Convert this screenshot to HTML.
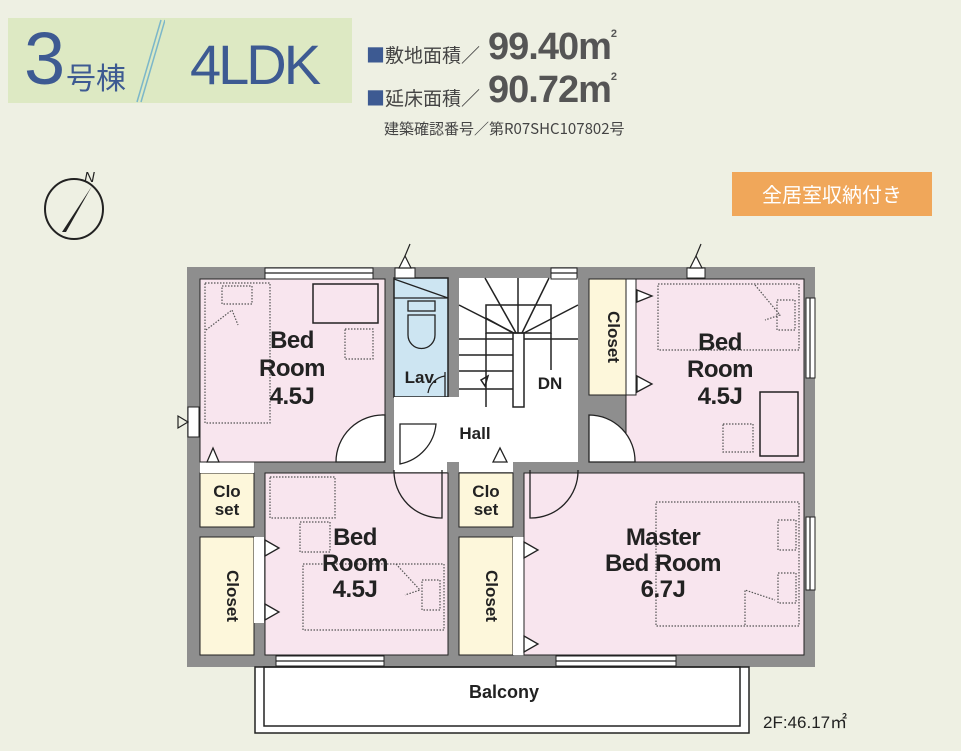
<!DOCTYPE html>
<html><head><meta charset="utf-8"><style>
html,body{margin:0;padding:0}
body{width:961px;height:751px;background:#eef0e3;position:relative;overflow:hidden;font-family:"Liberation Sans","Noto Sans CJK JP",sans-serif}
.t{position:absolute;white-space:nowrap}
</style></head><body>
<div style="position:absolute;left:8px;top:18px;width:344px;height:85px;background:#dde9c3"></div>
<div class="t" style="left:24px;top:16px;font-size:74px;color:#3d5a92;line-height:85px;letter-spacing:-2px">3</div>
<div class="t" style="left:66px;top:54px;font-size:30px;color:#3d5a92;font-family:'Noto Sans CJK JP',sans-serif">号棟</div>
<svg style="position:absolute;left:125px;top:18px" width="40" height="85"><line x1="12" y1="84" x2="36" y2="2" stroke="#7cb7c9" stroke-width="1.5"/><line x1="16" y1="84" x2="40" y2="2" stroke="#7cb7c9" stroke-width="1.5"/></svg>
<div class="t" style="left:190px;top:32px;font-size:56px;color:#3d5a92;letter-spacing:-3px">4LDK</div>
<div class="t" style="left:366px;top:41px;font-size:19px;color:#444;font-family:'Noto Sans CJK JP',sans-serif"><span style="color:#3d5a92">■</span>敷地面積／</div>
<div class="t" style="left:488px;top:26px;font-size:38px;font-weight:bold;color:#555;letter-spacing:-1px">99.40m<sup style="font-size:11px;vertical-align:22px">2</sup></div>
<div class="t" style="left:366px;top:84px;font-size:19px;color:#444;font-family:'Noto Sans CJK JP',sans-serif"><span style="color:#3d5a92">■</span>延床面積／</div>
<div class="t" style="left:488px;top:69px;font-size:38px;font-weight:bold;color:#555;letter-spacing:-1px">90.72m<sup style="font-size:11px;vertical-align:22px">2</sup></div>
<div class="t" style="left:384px;top:118px;font-size:15px;color:#444;font-family:'Noto Sans CJK JP',sans-serif">建築確認番号／第R07SHC107802号</div>
<div style="position:absolute;left:732px;top:172px;width:200px;height:44px;background:#f0a75a;color:#fff;font-size:20px;text-align:center;line-height:44px;font-family:'Noto Sans CJK JP',sans-serif">全居室収納付き</div>
<svg style="position:absolute;left:0;top:0" width="961" height="751">
<g font-family="Liberation Sans,sans-serif">
<ellipse cx="74" cy="209" rx="29" ry="30" fill="none" stroke="#222" stroke-width="2"/>
<polygon points="92,186 62,232 66,232" fill="#222"/>
<text x="84" y="182" font-size="15" font-style="italic" fill="#222">N</text>
<rect x="187" y="267" width="628" height="400" fill="#8e8e8e"/>
<rect x="200" y="279" width="185" height="183" fill="#f8e5ee"/>
<rect x="394" y="278" width="54" height="119" fill="#cde5f2" stroke="#222" stroke-width="1.5"/>
<rect x="459" y="278" width="119" height="130" fill="#fff"/>
<rect x="394" y="397" width="184" height="65" fill="#fff"/>
<rect x="394" y="462" width="53" height="10" fill="#fff"/>
<rect x="459" y="462" width="54" height="10" fill="#fff"/>
<rect x="589" y="279" width="37" height="116" fill="#fdf7db" stroke="#222"/>
<rect x="626" y="279" width="178" height="183" fill="#f8e5ee"/>
<rect x="626" y="279" width="10" height="116" fill="#fff" stroke="#222"/>
<rect x="200" y="473" width="54" height="54" fill="#fdf7db" stroke="#222"/>
<rect x="200" y="537" width="54" height="118" fill="#fdf7db" stroke="#222"/>
<rect x="254" y="537" width="10" height="86" fill="#fff"/>
<rect x="265" y="473" width="183" height="182" fill="#f8e5ee" stroke="#222"/>
<rect x="459" y="473" width="54" height="54" fill="#fdf7db" stroke="#222"/>
<rect x="459" y="537" width="54" height="118" fill="#fdf7db" stroke="#222"/>
<rect x="513" y="537" width="11" height="118" fill="#fff"/>
<rect x="524" y="473" width="280" height="182" fill="#f8e5ee" stroke="#222"/>
<rect x="200" y="462" width="54" height="11" fill="#fff"/>
<rect x="200" y="279" width="185" height="183" fill="none" stroke="#222"/>
<rect x="626" y="279" width="178" height="183" fill="none" stroke="#222"/>
<g fill="#fff" stroke="#222">
<rect x="265" y="268" width="108" height="11"/>
<rect x="551" y="268" width="26" height="11"/>
<rect x="806" y="298" width="9" height="80"/>
<rect x="806" y="517" width="9" height="73"/>
<rect x="276" y="656" width="108" height="10"/>
<rect x="556" y="656" width="120" height="10"/>
<rect x="188" y="407" width="11" height="30"/>
<rect x="395" y="268" width="20" height="10"/>
<rect x="687" y="268" width="18" height="10"/>
</g>
<g stroke="#222" fill="none" stroke-width="1.2">
<line x1="265" y1="273" x2="373" y2="273"/><line x1="551" y1="273" x2="577" y2="273"/>
<line x1="810" y1="298" x2="810" y2="378"/><line x1="810" y1="517" x2="810" y2="590"/>
<line x1="276" y1="661" x2="384" y2="661"/><line x1="556" y1="661" x2="676" y2="661"/>
<polygon points="405,256 399,268 411,268" fill="#fff"/><polygon points="696,256 690,268 702,268" fill="#fff"/>
<line x1="405" y1="256" x2="410" y2="244"/><line x1="696" y1="256" x2="701" y2="244"/>
<polygon points="188,422 178,416 178,428"/>
</g>
<g stroke="#222" stroke-width="1.5" fill="none">
<rect x="513" y="333" width="11" height="74" fill="#fff"/>
<rect x="486" y="305" width="65" height="28"/>
<line x1="486" y1="333" x2="486" y2="407"/>
<line x1="459" y1="339" x2="513" y2="339"/><line x1="459" y1="355" x2="513" y2="355"/><line x1="459" y1="371" x2="513" y2="371"/><line x1="459" y1="389" x2="513" y2="389"/>
<line x1="524" y1="339" x2="578" y2="339"/><line x1="551" y1="333" x2="551" y2="370"/>
<line x1="518" y1="278" x2="518" y2="333"/>
<line x1="485" y1="278" x2="516" y2="333"/><line x1="549" y1="278" x2="522" y2="333"/>
<line x1="459" y1="305" x2="514" y2="333"/><line x1="578" y1="305" x2="524" y2="333"/>
<line x1="486" y1="318" x2="513" y2="333"/>
<polygon points="481,380 488,376 485,386"/>
</g>
<g stroke="#222" stroke-width="1.3" fill="none">
<line x1="394" y1="279" x2="448" y2="298"/><line x1="394" y1="298" x2="448" y2="298"/>
<rect x="408" y="301" width="27" height="10"/>
<path d="M408 315 h27 v20 a13 13 0 0 1 -27 0 z"/>
<path d="M428 393 a20 20 0 0 1 17 -17" /><line x1="445" y1="372" x2="445" y2="397"/>
</g>
<g stroke="#222" stroke-width="1.3" fill="#fff">
<path d="M385 415 A47 47 0 0 0 336 462 L385 462 Z"/>
<path d="M400 424 L400 464 A45 45 0 0 0 436 424 Z" fill="none"/>
<path d="M589 415 A46 46 0 0 1 635 462 L589 462 Z"/>
<path d="M394 470 A47 47 0 0 0 442 518 L442 470" fill="none"/>
<path d="M578 470 A47 47 0 0 1 530 518 L530 470" fill="none"/>
<polygon points="207,462 213,448 219,462"/>
<polygon points="493,462 500,448 507,462"/>
<polygon points="637,290 652,296 637,302"/><polygon points="637,376 652,384 637,392"/>
<polygon points="265,540 279,548 265,556"/><polygon points="265,604 279,612 265,620"/>
<polygon points="524,542 538,550 524,558"/><polygon points="524,636 538,644 524,652"/>
</g>
<g stroke="#555" stroke-width="1.2" fill="none" stroke-dasharray="1.5,1.5">
<rect x="205" y="283" width="65" height="140"/><rect x="222" y="286" width="30" height="18"/>
<polyline points="206,330 232,310 238,325"/>
<rect x="345" y="329" width="28" height="30"/>
<rect x="658" y="284" width="141" height="66"/><rect x="777" y="300" width="18" height="30"/>
<polyline points="755,285 780,315 765,320"/>
<rect x="723" y="424" width="30" height="28"/>
<rect x="270" y="477" width="65" height="41"/><rect x="300" y="522" width="30" height="30"/>
<rect x="303" y="564" width="141" height="66"/><rect x="422" y="580" width="18" height="30"/>
<polyline points="396,564 420,590 405,595"/>
<rect x="656" y="502" width="143" height="124"/><rect x="778" y="520" width="18" height="30"/><rect x="778" y="573" width="18" height="30"/>
<polyline points="745,625 745,590 775,600"/>
</g>
<g stroke="#222" stroke-width="1.5" fill="none">
<rect x="313" y="284" width="65" height="39"/>
<rect x="760" y="392" width="38" height="64"/>
</g>
<rect x="255" y="667" width="494" height="66" fill="#fff" stroke="#222" stroke-width="1.5"/>
<rect x="264" y="667" width="476" height="59" fill="none" stroke="#222" stroke-width="1.5"/>
<g fill="#222" font-size="24" text-anchor="middle" font-weight="bold" letter-spacing="-0.5">
<text x="292" y="348">Bed</text><text x="292" y="376">Room</text><text x="292" y="404">4.5J</text>
<text x="720" y="350">Bed</text><text x="720" y="377">Room</text><text x="720" y="404">4.5J</text>
<text x="355" y="545">Bed</text><text x="355" y="571">Room</text><text x="355" y="597">4.5J</text>
<text x="663" y="545">Master</text><text x="663" y="571">Bed Room</text><text x="663" y="597">6.7J</text>
</g>
<g fill="#222" font-size="17" text-anchor="middle" font-weight="bold">
<text x="421" y="383">Lav.</text><text x="550" y="389">DN</text><text x="475" y="439">Hall</text>
<text x="227" y="497">Clo</text><text x="227" y="515">set</text>
<text x="486" y="497">Clo</text><text x="486" y="515">set</text>
<text x="504" y="698" font-size="18">Balcony</text>
<text x="608" y="337" transform="rotate(90 608 337)">Closet</text>
<text x="227" y="596" transform="rotate(90 227 596)">Closet</text>
<text x="486" y="596" transform="rotate(90 486 596)">Closet</text>
</g>
<text x="763" y="728" font-size="17" fill="#222">2F:46.17㎡</text>
</g>
</svg>
</body></html>
